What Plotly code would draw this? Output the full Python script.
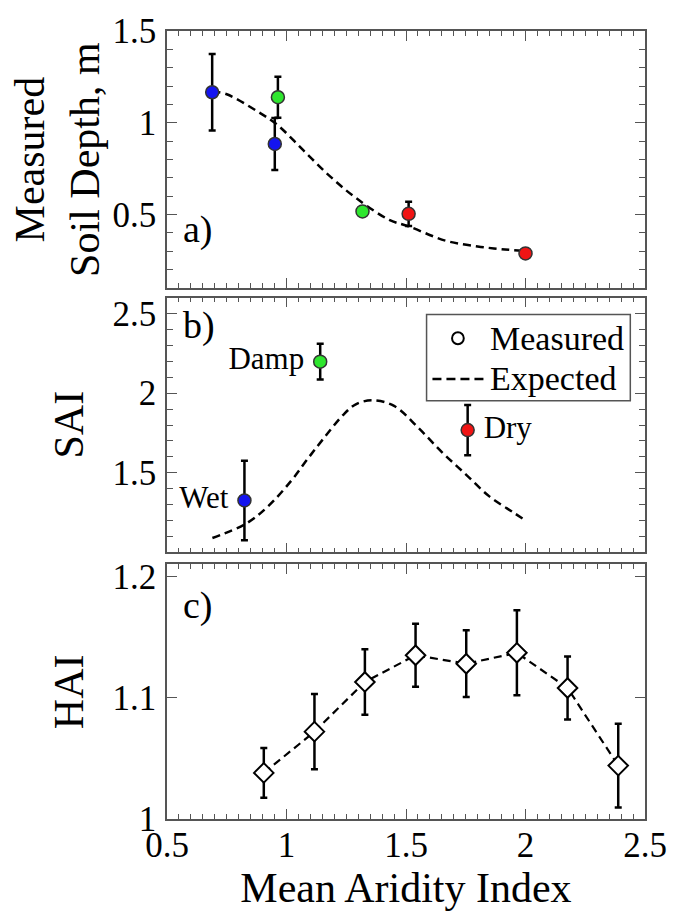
import plotly.graph_objects as go

# ---------------- data ----------------
# a) measured soil depth vs mean aridity index
depth_x = [0.689, 0.951, 0.964, 1.318, 1.511, 2.0]
depth_y = [1.166, 0.884, 1.139, 0.516, 0.503, 0.287]
depth_err = [0.208, 0.142, 0.112, 0.0, 0.066, 0.0]
depth_colors = ["#1414f0", "#1414f0", "#2ee62e", "#2ee62e", "#f01414", "#f01414"]

depth_fit_x = [0.69, 0.75, 0.88, 0.96, 1.07, 1.18, 1.29, 1.43, 1.51, 1.67, 1.80, 1.90, 2.00]
depth_fit_y = [1.17, 1.155, 1.06, 0.99, 0.85, 0.71, 0.59, 0.47, 0.435, 0.355, 0.325, 0.31, 0.30]

# b) SAI for the three climate groups
sai_labels = ["Wet", "Damp", "Dry"]
sai_x = [0.824, 1.141, 1.758]
sai_y = [1.326, 2.198, 1.768]
sai_err = [0.25, 0.113, 0.158]
sai_colors = ["#1414f0", "#2ee62e", "#f01414"]

sai_fit_x = [0.69, 0.83, 0.92, 1.02, 1.09, 1.155, 1.235, 1.29, 1.36, 1.45, 1.55, 1.65, 1.75, 1.85, 1.95, 2.00]
sai_fit_y = [1.09, 1.18, 1.285, 1.45, 1.59, 1.715, 1.86, 1.93, 1.955, 1.92, 1.785, 1.63, 1.49, 1.35, 1.25, 1.20]

# c) HAI binned by aridity
hai_x = [0.905, 1.117, 1.328, 1.540, 1.752, 1.964, 2.176, 2.388]
hai_y = [1.038, 1.072, 1.113, 1.135, 1.128, 1.137, 1.108, 1.044]
hai_err = [0.0205, 0.031, 0.027, 0.026, 0.0275, 0.035, 0.026, 0.0345]

x_ticks = [0.5, 1, 1.5, 2, 2.5]
legend_labels = ["Measured", "Expected"]

# ---------------- styling ----------------
FONT = "Liberation Serif"
AXIS_GREY = "#555555"
DASH = "8px,5px"
ERR = dict(type="data", visible=True, color="black", thickness=2.5, width=3.5)

W, H = 679, 923
M = dict(l=167, r=24, t=24, b=104)
PW, PH = W - M["l"] - M["r"], H - M["t"] - M["b"]


def px(xp):
    """Pixel column -> paper x."""
    return (xp - M["l"]) / PW


def py(yp):
    """Pixel row -> paper y."""
    return (H - M["b"] - yp) / PH


fig = go.Figure()

# panel a
fig.add_trace(go.Scatter(
    x=depth_fit_x, y=depth_fit_y, mode="lines", line_shape="spline",
    line=dict(color="black", width=2.5, dash=DASH),
    xaxis="x", yaxis="y", showlegend=False))
fig.add_trace(go.Scatter(
    x=depth_x, y=depth_y, mode="markers",
    marker=dict(size=13, color=depth_colors, line=dict(color="#333333", width=1.5)),
    error_y=dict(array=depth_err, **ERR),
    xaxis="x", yaxis="y", showlegend=False))

# panel b
fig.add_trace(go.Scatter(
    x=sai_fit_x, y=sai_fit_y, mode="lines", line_shape="spline",
    line=dict(color="black", width=2.5, dash=DASH),
    xaxis="x2", yaxis="y2", showlegend=False))
fig.add_trace(go.Scatter(
    x=sai_x, y=sai_y, mode="markers",
    marker=dict(size=13, color=sai_colors, line=dict(color="#333333", width=1.5)),
    error_y=dict(array=sai_err, **ERR),
    xaxis="x2", yaxis="y2", showlegend=False))
# group names, offset from the points by a wider transparent marker
fig.add_trace(go.Scatter(
    x=sai_x, y=sai_y, mode="markers+text", text=sai_labels,
    textposition=["middle left", "middle left", "middle right"],
    textfont=dict(family=FONT, size=31, color="black"),
    marker=dict(size=24, color="rgba(0,0,0,0)", line=dict(width=0)),
    hoverinfo="skip", xaxis="x2", yaxis="y2", showlegend=False))

# panel c
fig.add_trace(go.Scatter(
    x=hai_x, y=hai_y, mode="lines+markers",
    line=dict(color="black", width=2.2, dash=DASH),
    marker=dict(size=15, symbol="diamond", color="white", line=dict(color="black", width=2)),
    error_y=dict(array=hai_err, **ERR),
    xaxis="x3", yaxis="y3", showlegend=False))

# ---------------- axes ----------------
tickfont = dict(family=FONT, size=35, color="black")
minor_x = dict(dtick=0.05, ticklen=5, tickcolor=AXIS_GREY, tickwidth=1, ticks="inside")
common = dict(showline=True, linecolor=AXIS_GREY, linewidth=1.5, mirror="allticks",
              ticks="inside", ticklen=10, tickwidth=1.2, tickcolor=AXIS_GREY,
              showgrid=False, zeroline=False, tickfont=tickfont)

domains = {"a": [py(283), 1.0], "b": [py(550), py(293)], "c": [0.0, py(562)]}

for name, anchor, show in [("xaxis", "y", False), ("xaxis2", "y2", False), ("xaxis3", "y3", True)]:
    fig.update_layout({name: dict(range=[0.5, 2.5], tickvals=x_ticks, anchor=anchor,
                                  showticklabels=show, minor=minor_x, domain=[0, 1], **common)})
fig.update_layout(
    xaxis=dict(matches="x3"), xaxis2=dict(matches="x3"),
    xaxis3=dict(ticklabelstandoff=-6,
                title=dict(text="Mean Aridity Index", font=dict(family=FONT, size=42, color="black"),
                           standoff=2)),
)

minor_y = dict(dtick=0.1, ticklen=6, tickcolor=AXIS_GREY, tickwidth=1, ticks="inside")
fig.update_layout(
    yaxis=dict(range=[0.1, 1.5], tickvals=[0.5, 1, 1.5], domain=domains["a"], anchor="x",
               minor=minor_y, ticklabelstandoff=2, **common),
    yaxis2=dict(range=[1.0, 2.6], tickvals=[1.5, 2, 2.5], domain=domains["b"], anchor="x2",
                minor=dict(minor_y, tick0=1.0), ticklabelstandoff=2, **common),
    yaxis3=dict(range=[1.0, 1.21], tickvals=[1, 1.1, 1.2], ticktext=["1", "1.1", "1.2"],
                domain=domains["c"], anchor="x3", ticklabelstandoff=2, **common),
)

# ---------------- text ----------------
title_font = dict(family=FONT, size=42, color="black")
panel_font = dict(family=FONT, size=38, color="black")
legend_font = dict(family=FONT, size=34, color="black")
annotations = [
    dict(text="Measured<br>Soil Depth, m", textangle=-90, xref="paper", yref="y domain",
         x=-0.229, y=0.5, xanchor="center", yanchor="middle", showarrow=False, font=title_font),
    dict(text="SAI", textangle=-90, xref="paper", yref="y2 domain",
         x=-0.206, y=0.5, xanchor="center", yanchor="middle", showarrow=False, font=title_font),
    dict(text="HAI", textangle=-90, xref="paper", yref="y3 domain",
         x=-0.206, y=0.5, xanchor="center", yanchor="middle", showarrow=False, font=title_font),
    dict(text="a)", xref="x domain", yref="y domain", x=0.03, y=0.228,
         xanchor="left", yanchor="middle", showarrow=False, font=panel_font),
    dict(text="b)", xref="x2 domain", yref="y2 domain", x=0.03, y=0.89,
         xanchor="left", yanchor="middle", showarrow=False, font=panel_font),
    dict(text="c)", xref="x3 domain", yref="y3 domain", x=0.03, y=0.84,
         xanchor="left", yanchor="middle", showarrow=False, font=panel_font),
    # legend text for panel b
    dict(text=legend_labels[0], xref="paper", yref="paper", x=px(495), y=py(334),
         xanchor="left", yanchor="middle", showarrow=False, font=legend_font),
    dict(text=legend_labels[1], xref="paper", yref="paper", x=px(495), y=py(375),
         xanchor="left", yanchor="middle", showarrow=False, font=legend_font),
]

# legend box and keys for panel b
shapes = [
    dict(type="rect", xref="paper", yref="paper", x0=px(432), x1=px(640), y0=py(397), y1=py(310),
         line=dict(color=AXIS_GREY, width=1.5), fillcolor="white", layer="above"),
    dict(type="circle", xref="paper", yref="paper", x0=px(458), x1=px(470), y0=py(340), y1=py(328),
         line=dict(color="black", width=2), fillcolor="white", layer="above"),
    dict(type="line", xref="paper", yref="paper", x0=px(438), x1=px(492), y0=py(375), y1=py(375),
         line=dict(color="black", width=2.5, dash="9px,5px"), layer="above"),
]

fig.update_layout(
    width=W, height=H,
    margin=M,
    paper_bgcolor="white", plot_bgcolor="white",
    font=dict(family=FONT, color="black"),
    annotations=annotations,
    shapes=shapes,
    showlegend=False,
)

fig.write_html("out.html")
